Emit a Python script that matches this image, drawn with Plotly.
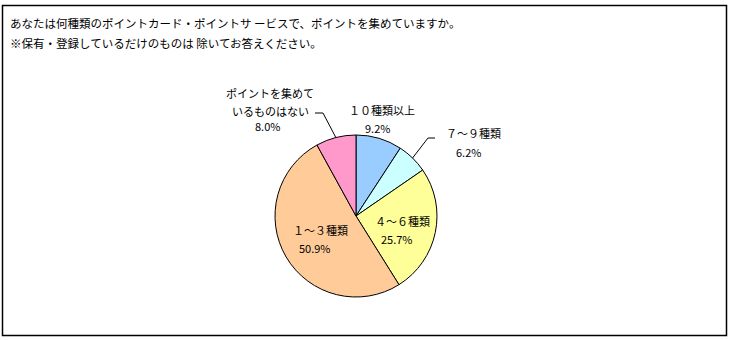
import math
import plotly.graph_objects as go

# ---- data ----
categories = ["１０種類以上", "７～９種類", "４～６種類", "１～３種類", "ポイントを集めて\nいるものはない"]
values = [9.2, 6.2, 25.7, 50.9, 8.0]
colors = ["#99CCFF", "#CCFFFF", "#FFFF99", "#FFCC99", "#FF99CC"]
title_lines = [
    "あなたは何種類のポイントカード・ポイントサ ービスで、ポイントを集めていますか。",
    "※保有・登録しているだけのものは 除いてお答えください。",
]

W, H = 732, 340
CX, CY, R = 356, 216, 81
FONT = "Noto Sans CJK JP, Noto Sans, sans-serif"


def px(x):
    return x / W


def py(y):
    return 1 - y / H


fig = go.Figure(go.Pie(
    labels=[c.replace("\n", "") for c in categories],
    values=values,
    sort=False,
    direction="clockwise",
    rotation=0,
    textinfo="none",
    hoverinfo="label+percent",
    marker=dict(colors=colors, line=dict(color="#000000", width=1)),
    domain=dict(x=[px(CX - R), px(CX + R)], y=[py(CY + R), py(CY - R)]),
    showlegend=False,
))

# label placement (pixel positions of line centres): name lines, pct line
label_layout = [
    dict(x=382, ys=[110], pct_x=377, pct_y=128, leader=None),
    dict(x=473, ys=[133], pct_x=468, pct_y=152, leader=(435, 138, 428)),
    dict(x=402, ys=[221], pct_x=397, pct_y=239, leader=None),
    dict(x=320, ys=[230], pct_x=315, pct_y=248, leader=None),
    dict(x=270, ys=[93, 111], pct_x=267, pct_y=126, leader=(315, 113, 323)),
]

annotations = []
shapes = []
total = sum(values)
cum = 0
for i, (cat, v) in enumerate(zip(categories, values)):
    mid = (cum + v / 2) / total * 2 * math.pi
    cum += v
    lay = label_layout[i]
    lines = cat.split("\n")
    for ln, yy in zip(lines, lay["ys"]):
        annotations.append(dict(text=ln, x=px(lay["x"]), y=py(yy), xref="paper", yref="paper",
                                showarrow=False, xanchor="center", yanchor="middle",
                                font=dict(family=FONT, size=11, color="#000")))
    annotations.append(dict(text=f"{v:.1f}%", x=px(lay["pct_x"]), y=py(lay["pct_y"]),
                            xref="paper", yref="paper", showarrow=False,
                            xanchor="center", yanchor="middle",
                            font=dict(family=FONT, size=11, color="#000")))
    if lay["leader"]:
        ex = CX + R * math.sin(mid)
        ey = CY - R * math.cos(mid)
        hx_far, hy, hx_near = lay["leader"]
        elbow_x = hx_far if abs(hx_far - ex) < abs(hx_near - ex) else hx_near
        other_x = hx_near if elbow_x == hx_far else hx_far
        shapes.append(dict(type="path", xref="paper", yref="paper",
                           path=f"M {px(ex)} {py(ey)} L {px(elbow_x)} {py(hy)} L {px(other_x)} {py(hy)}",
                           line=dict(color="#000", width=1)))

for ln, yy in zip(title_lines, [23, 43]):
    annotations.append(dict(text=ln, x=px(8), y=py(yy), xref="paper", yref="paper",
                            showarrow=False, xanchor="left", yanchor="middle",
                            font=dict(family=FONT, size=11.5, color="#000")))

shapes.append(dict(type="rect", xref="paper", yref="paper",
                   x0=px(2.5), x1=px(726.5), y0=py(335.5), y1=py(5.5),
                   line=dict(color="#000", width=1.5)))

fig.update_layout(
    width=W, height=H, autosize=False,
    margin=dict(l=0, r=0, t=0, b=0),
    paper_bgcolor="#FFFFFF", plot_bgcolor="#FFFFFF",
    annotations=annotations, shapes=shapes,
)

fig.write_html("out.html", config={"displayModeBar": False})
